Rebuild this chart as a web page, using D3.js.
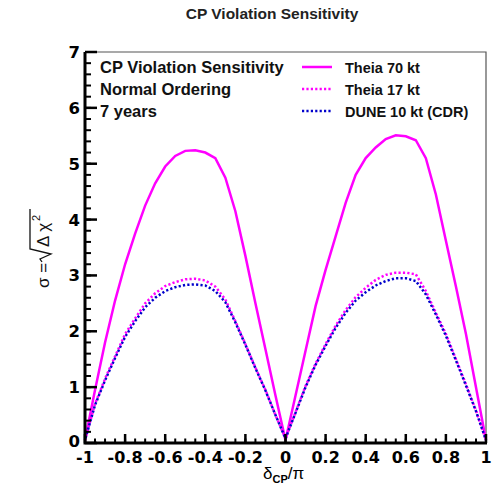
<!DOCTYPE html>
<html>
<head>
<meta charset="utf-8">
<script src="https://cdn.jsdelivr.net/npm/d3@7"></script>
<style>
  body { margin: 0; background: #fff; }
  svg { display: block; }
</style>
</head>
<body>
<div id="app"></div>
<script>
// delta_CP / pi sample points
const deltaCP = [-1, -0.95, -0.9, -0.85, -0.8, -0.75, -0.7, -0.65, -0.6, -0.55, -0.5,
  -0.45, -0.4, -0.35, -0.3, -0.25, -0.2, -0.15, -0.1, -0.05, 0,
  0.05, 0.1, 0.15, 0.2, 0.25, 0.3, 0.35, 0.4, 0.45, 0.5,
  0.55, 0.6, 0.65, 0.7, 0.75, 0.8, 0.85, 0.9, 0.95, 1];

const theia70 = [0.05, 0.95, 1.8, 2.55, 3.2, 3.75, 4.25, 4.65, 4.95, 5.14, 5.23,
  5.24, 5.2, 5.1, 4.75, 4.15, 3.35, 2.5, 1.68, 0.85, 0.05,
  0.85, 1.65, 2.45, 3.1, 3.7, 4.3, 4.8, 5.1, 5.29, 5.44,
  5.51, 5.49, 5.42, 5.1, 4.45, 3.62, 2.8, 1.95, 1.0, 0.05];

const theia17 = [0.05, 0.7, 1.15, 1.55, 1.95, 2.23, 2.5, 2.68, 2.81, 2.88, 2.93,
  2.94, 2.91, 2.8, 2.57, 2.18, 1.77, 1.35, 0.95, 0.5, 0.08,
  0.55, 1.02, 1.42, 1.77, 2.1, 2.38, 2.61, 2.78, 2.92, 3.01,
  3.05, 3.05, 3.02, 2.72, 2.33, 1.95, 1.5, 1.05, 0.58, 0.05];

const dune10 = [0.05, 0.68, 1.12, 1.52, 1.9, 2.18, 2.43, 2.6, 2.72, 2.79, 2.83,
  2.84, 2.82, 2.72, 2.52, 2.16, 1.76, 1.34, 0.94, 0.5, 0.08,
  0.54, 1.0, 1.4, 1.74, 2.06, 2.33, 2.55, 2.7, 2.82, 2.9,
  2.95, 2.95, 2.9, 2.66, 2.3, 1.92, 1.48, 1.03, 0.57, 0.05];

const xTicks = [-1, -0.8, -0.6, -0.4, -0.2, 0, 0.2, 0.4, 0.6, 0.8, 1];
const yTicks = [0, 1, 2, 3, 4, 5, 6, 7];

const infoLines = ["CP Violation Sensitivity", "Normal Ordering", "7 years"];
const legendNames = ["Theia 70 kt", "Theia 17 kt", "DUNE 10 kt (CDR)"];

const width = 494, height = 489;

const series = [
  { name: legendNames[0], values: theia70, color: "#ff00ff", dash: null, offset: 0 },
  { name: legendNames[1], values: theia17, color: "#ff00ff", dash: "2.2,2.2", offset: 0 },
  { name: legendNames[2], values: dune10, color: "#0000cc", dash: "2.2,2.2", offset: 2.2 }
];

const x = d3.scaleLinear().domain([-1, 1]).range([85, 486]);
const y = d3.scaleLinear().domain([0, 7]).range([443, 52]);

const svg = d3.select("#app").append("svg")
  .attr("width", width)
  .attr("height", height);

// title
svg.append("text")
  .attr("x", 272).attr("y", 19)
  .attr("text-anchor", "middle")
  .attr("font-family", "Liberation Sans, Arial, sans-serif")
  .attr("font-weight", "bold")
  .attr("font-size", 15.5)
  .attr("fill", "#222")
  .text("CP Violation Sensitivity");

// frame (top / right thin)
svg.append("path")
  .attr("d", `M${x(-1)},${y(7)}H${x(1)}V${y(0)}`)
  .attr("fill", "none")
  .attr("stroke", "#555")
  .attr("stroke-width", 1.2);

// curves
const line = d3.line()
  .x((d, i) => x(deltaCP[i]))
  .y(d => y(d));

const plot = svg.append("g");
series.forEach(s => {
  plot.append("path")
    .datum(s.values)
    .attr("d", line)
    .attr("fill", "none")
    .attr("stroke", s.color)
    .attr("stroke-width", 2.5)
    .attr("stroke-dasharray", s.dash)
    .attr("stroke-dashoffset", s.offset);
});

// axes
const yMinor = d3.range(0, 7.001, 0.2);
const xMinor = d3.range(-1, 1.001, 0.05);

const axes = svg.append("g").attr("stroke", "#000");

axes.selectAll(".ymin").data(yMinor).join("line")
  .attr("x1", x(-1)).attr("x2", x(-1) + 6)
  .attr("y1", d => y(d)).attr("y2", d => y(d))
  .attr("stroke-width", 2);

axes.selectAll(".ymaj").data(yTicks).join("line")
  .attr("x1", x(-1)).attr("x2", x(-1) + 12)
  .attr("y1", d => y(d)).attr("y2", d => y(d))
  .attr("stroke-width", 2.5);

axes.selectAll(".xmin").data(xMinor).join("line")
  .attr("x1", d => x(d)).attr("x2", d => x(d))
  .attr("y1", y(0)).attr("y2", y(0) - 4.5)
  .attr("stroke-width", 2);

axes.selectAll(".xmaj").data(xTicks).join("line")
  .attr("x1", d => x(d)).attr("x2", d => x(d))
  .attr("y1", y(0)).attr("y2", y(0) - 9)
  .attr("stroke-width", 2.5);

axes.append("path")
  .attr("d", `M${x(-1)},${y(7)}V${y(0)}H${x(1) + 1}`)
  .attr("fill", "none")
  .attr("stroke-width", 3);

// tick labels
const fmt = d => (d === 0 ? "0" : d3.format("")(d)).replace("\u2212", "-");
svg.append("g")
  .attr("font-family", "DejaVu Sans, sans-serif")
  .attr("font-weight", "bold")
  .attr("font-size", 16.5)
  .selectAll("text").data(yTicks).join("text")
  .attr("x", 80).attr("y", d => y(d) + (d === 0 ? 4 : 6))
  .attr("text-anchor", "end")
  .text(d => d);

svg.append("g")
  .attr("font-family", "DejaVu Sans, sans-serif")
  .attr("font-weight", "bold")
  .attr("font-size", 16)
  .selectAll("text").data(xTicks).join("text")
  .attr("x", d => x(d)).attr("y", 463)
  .attr("text-anchor", "middle")
  .text(d => fmt(d));

// x axis title: delta_CP / pi
const xt = svg.append("text")
  .attr("x", 263).attr("y", 479)
  .attr("font-family", "Liberation Sans, Arial, sans-serif")
  .attr("font-size", 17);
xt.append("tspan").text("\u03b4");
xt.append("tspan").attr("dy", 4).attr("font-size", 11).attr("font-weight", "bold").text("CP");
xt.append("tspan").attr("dy", -4).text("/\u03c0");

// y axis title: sigma = sqrt(Delta chi^2)
const yt = svg.append("g")
  .attr("transform", "translate(49,248) rotate(-90)")
  .attr("font-family", "Liberation Sans, Arial, sans-serif")
  .attr("font-size", 17)
  .attr("fill", "#111");
yt.append("text").attr("x", -40).attr("y", 0).text("\u03c3 =");
yt.append("path")
  .attr("d", "M-14,-7 L-11,-9 L-6,2 L-1,-19 L39,-19")
  .attr("fill", "none").attr("stroke", "#111").attr("stroke-width", 1.3);
yt.append("text").attr("x", 1).attr("y", 0).text("\u0394 \u03c7");
yt.append("text").attr("x", 27).attr("y", -9).attr("font-size", 11).text("2");

// info text
svg.append("g")
  .attr("font-family", "Liberation Sans, Arial, sans-serif")
  .attr("font-weight", "bold")
  .attr("font-size", 16.5)
  .selectAll("text").data(infoLines).join("text")
  .attr("x", 100).attr("y", (d, i) => 73 + i * 22)
  .attr("fill", "#111")
  .text(d => d);

// legend
const leg = svg.append("g");
series.forEach((s, i) => {
  const ly = 67 + i * 22;
  leg.append("line")
    .attr("x1", 302).attr("x2", 332)
    .attr("y1", ly).attr("y2", ly)
    .attr("stroke", s.color)
    .attr("stroke-width", 2.5)
    .attr("stroke-dasharray", s.dash);
  leg.append("text")
    .attr("x", 345).attr("y", ly + 5.5)
    .attr("font-family", "Liberation Sans, Arial, sans-serif")
    .attr("font-weight", "bold")
    .attr("font-size", 14.5)
    .attr("fill", "#111")
    .text(s.name);
});
</script>
</body>
</html>
